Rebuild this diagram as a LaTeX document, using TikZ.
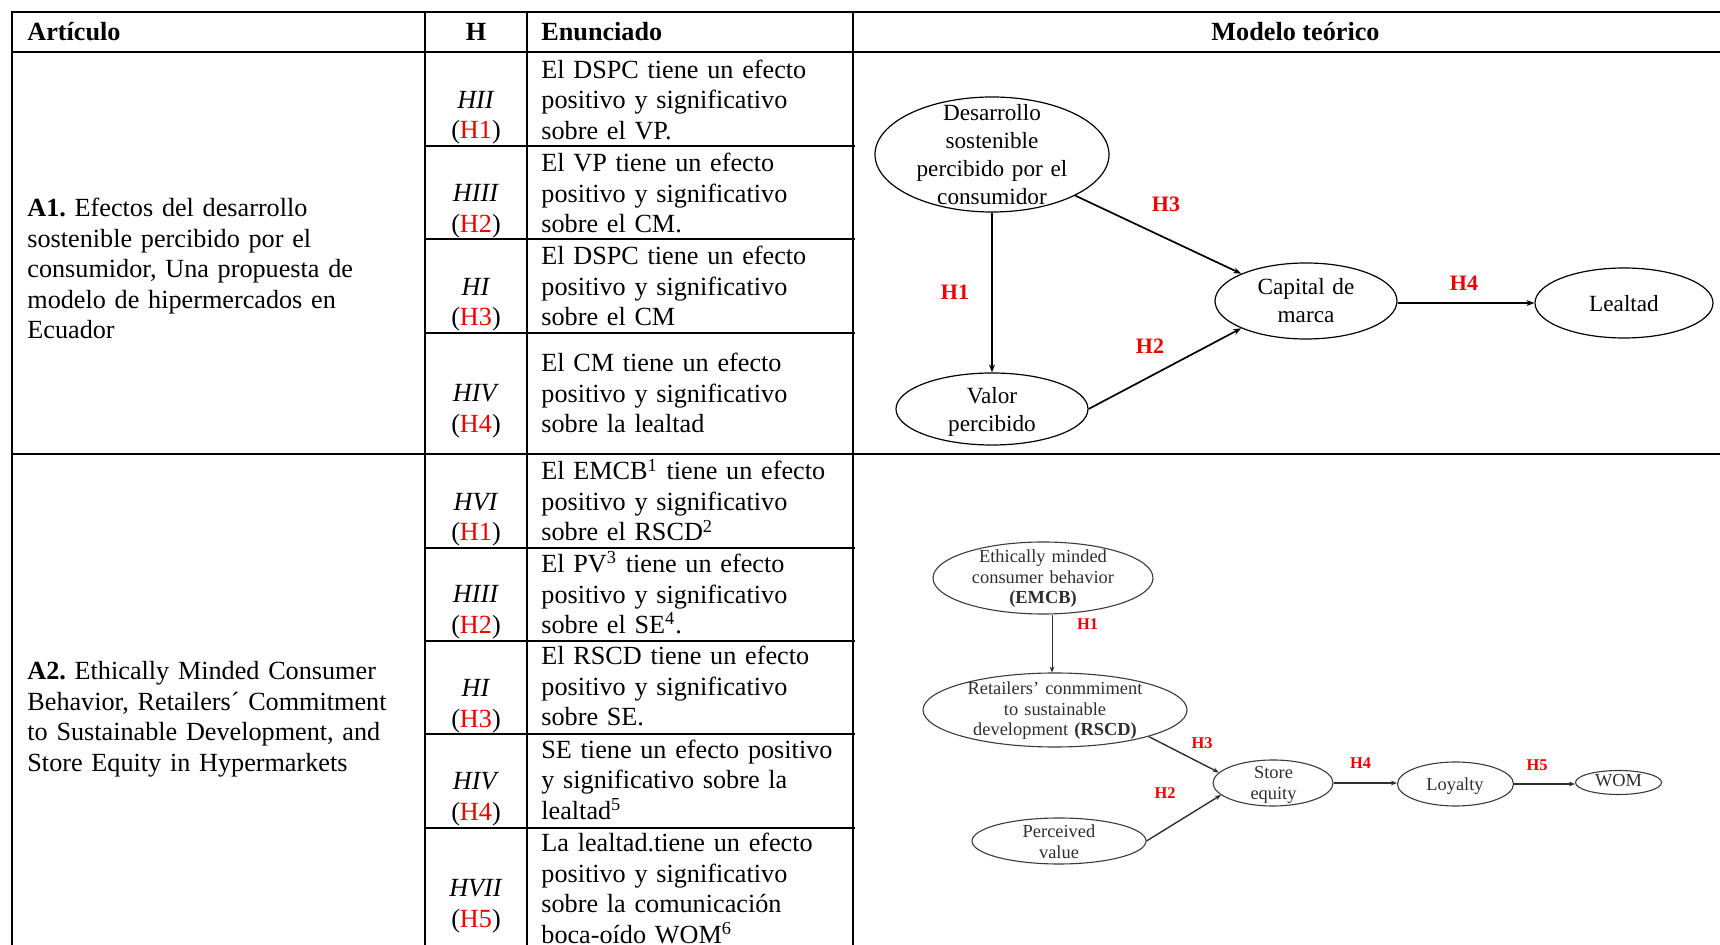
\documentclass[tikz,border=0pt]{standalone}
\usepackage{fontspec}
\setmainfont{Liberation Serif}
\usetikzlibrary{shapes.geometric,arrows.meta}
\definecolor{hred}{HTML}{EE0000}
\definecolor{dgray}{HTML}{2E2E2E}
\definecolor{egray}{HTML}{3A3A3A}
\newcommand\tabf{\fontsize{13.1pt}{15.25pt}\selectfont}
\newcommand\dfa{\fontsize{11.6pt}{13.85pt}\selectfont}
\newcommand\dfb{\fontsize{9.2pt}{10.25pt}\selectfont}
\frenchspacing
\begin{document}
\begin{tikzpicture}[x=0.5pt,y=-0.5pt,
  gridl/.style={line width=1.1pt, line cap=rect},
  tabtxt/.style={font=\tabf, inner sep=0pt, anchor=base west, align=left, text width=#1},
  tabtxt/.default=155pt,
  htxt/.style={font=\tabf, inner sep=0pt, anchor=base, align=center, text width=45pt},
  hdr/.style={font=\tabf\bfseries, inner sep=0pt},
  ellA/.style={ellipse, draw, line width=0.6pt, inner sep=0pt},
  ellB/.style={ellipse, draw=egray, line width=0.55pt, inner sep=0pt},
  dtxtA/.style={font=\dfa, inner sep=0pt, anchor=base, align=center, text width=100pt},
  dtxtB/.style={font=\dfb, text=dgray, inner sep=0pt, anchor=base, align=center, text width=110pt},
  lblA/.style={font=\fontsize{11pt}{13pt}\selectfont\bfseries, text=hred, inner sep=0pt},
  lblB/.style={font=\fontsize{8.2pt}{10pt}\selectfont\bfseries, text=hred, inner sep=0pt},
  arrA/.style={-{Stealth[length=4pt,width=3pt]}, line width=0.85pt},
  arrAt/.style={-{Stealth[length=4pt,width=3pt]}, line width=0.6pt},
  arrB/.style={-{Stealth[length=3pt,width=2.4pt]}, line width=0.7pt, draw=dgray},
  arrBt/.style={-{Stealth[length=3pt,width=2.4pt]}, line width=0.5pt, draw=dgray}
]
\useasboundingbox (0,0) rectangle (1720,945);

% ---------- table grid ----------
\draw[gridl] (12,12) -- (1720,12);
\draw[gridl] (12,52) -- (1720,52);
\draw[gridl] (12,12) -- (12,945);
\draw[gridl] (425,12) -- (425,945);
\draw[gridl] (527,12) -- (527,945);
\draw[gridl] (853,12) -- (853,945);
\foreach \yy in {146,239,333,548,641,734,828} \draw[gridl] (425,\yy) -- (854,\yy);
\draw[gridl] (12,454) -- (867,454);
\draw[line width=0.6pt] (867,454) -- (1720,454);

% ---------- header ----------
\node[hdr, anchor=base west] (hA) at (27,40.7) {Artículo};
\node[hdr, anchor=base] (hH) at (476,40.7) {H};
\node[hdr, anchor=base west] (hE) at (541,40.7) {Enunciado};
\node[hdr, anchor=base] (hM) at (1295.5,40.7) {Modelo teórico};

% ---------- A1 ----------
\node[tabtxt=195pt] (a1) at (27,217) {\textbf{A1.} Efectos del desarrollo\\sostenible percibido por el\\consumidor, Una propuesta de\\modelo de hipermercados en\\Ecuador};

\node[htxt] (h11) at (476,108.5) {\textit{HII}\\(\textcolor{hred}{H1})};
\node[htxt] (h12) at (476,202) {\textit{HIII}\\(\textcolor{hred}{H2})};
\node[htxt] (h13) at (476,295.5) {\textit{HI}\\(\textcolor{hred}{H3})};
\node[htxt] (h14) at (476,402) {\textit{HIV}\\(\textcolor{hred}{H4})};

\node[tabtxt] (e11) at (541,78.3) {El DSPC tiene un efecto\\positivo y significativo\\sobre el VP.};
\node[tabtxt] (e12) at (541,171.7) {El VP tiene un efecto\\positivo y significativo\\sobre el CM.};
\node[tabtxt] (e13) at (541,265) {El DSPC tiene un efecto\\positivo y significativo\\sobre el CM};
\node[tabtxt] (e14) at (541,371.7) {El CM tiene un efecto\\positivo y significativo\\sobre la lealtad};

% ---------- A2 ----------
\node[tabtxt=195pt] (a2) at (27,680) {\textbf{A2.} Ethically Minded Consumer\\Behavior, Retailers´ Commitment\\to Sustainable Development, and\\Store Equity in Hypermarkets};

\node[htxt] (h21) at (476,510.5) {\textit{HVI}\\(\textcolor{hred}{H1})};
\node[htxt] (h22) at (476,603) {\textit{HIII}\\(\textcolor{hred}{H2})};
\node[htxt] (h23) at (476,696.7) {\textit{HI}\\(\textcolor{hred}{H3})};
\node[htxt] (h24) at (476,790) {\textit{HIV}\\(\textcolor{hred}{H4})};
\node[htxt] (h25) at (476,896.7) {\textit{HVII}\\(\textcolor{hred}{H5})};

\node[tabtxt] (e21) at (541,480) {El EMCB\textsuperscript{1} tiene un efecto\\positivo y significativo\\sobre el RSCD\textsuperscript{2}};
\node[tabtxt] (e22) at (541,572.7) {El PV\textsuperscript{3} tiene un efecto\\positivo y significativo\\sobre el SE\textsuperscript{4}.};
\node[tabtxt] (e23) at (541,665) {El RSCD tiene un efecto\\positivo y significativo\\sobre SE.};
\node[tabtxt] (e24) at (541,758.3) {SE tiene un efecto positivo\\y significativo sobre la\\lealtad\textsuperscript{5}};
\node[tabtxt] (e25) at (541,851.7) {La lealtad.tiene un efecto\\positivo y significativo\\sobre la comunicación\\boca-oído WOM\textsuperscript{6}};

% ---------- Model A1 ----------
\node[ellA, minimum width=117pt, minimum height=57.5pt] (dspc) at (992,154.5) {};
\node[ellA, minimum width=96pt, minimum height=36pt] (vp) at (992,409) {};
\node[ellA, minimum width=91pt, minimum height=38pt] (cm) at (1306,301) {};
\node[ellA, minimum width=89pt, minimum height=35pt] (leal) at (1624,303) {};

\node[dtxtA] (dspcT) at (992,121) {Desarrollo\\sostenible\\percibido por el\\consumidor};
\node[dtxtA] (vpT) at (992,404) {Valor\\percibido};
\node[dtxtA] (cmT) at (1306,295) {Capital de\\marca};
\node[dtxtA] (lealT) at (1624,312) {Lealtad};

\draw[arrAt] (dspc.south) -- (vp.north);
\draw[arrA] (dspc.south east) -- (cm.north west);
\draw[arrA] (vp.east) -- (cm.south west);
\draw[arrA] ([yshift=-1pt]cm.east) -- ([yshift=-1pt]cm.east -| leal.west);

\node[lblA] (l1) at (955,292) {H1};
\node[lblA] (l3) at (1166,204) {H3};
\node[lblA] (l2) at (1150,346) {H2};
\node[lblA] (l4) at (1464,283) {H4};

% ---------- Model A2 ----------
\node[ellB, minimum width=110pt, minimum height=36pt] (emcb) at (1043,578) {};
\node[ellB, minimum width=132pt, minimum height=37pt] (rscd) at (1055,710) {};
\node[ellB, minimum width=87pt, minimum height=23pt] (pv) at (1059,841) {};
\node[ellB, minimum width=60pt, minimum height=23pt] (se) at (1273,783) {};
\node[ellB, minimum width=58pt, minimum height=22pt] (loy) at (1455.5,784) {};
\node[ellB, minimum width=43pt, minimum height=12pt] (wom) at (1618.5,782.5) {};

\node[dtxtB] (emcbT) at (1043,563) {Ethically minded\\consumer behavior\\\textbf{(EMCB)}};
\node[dtxtB] (rscdT) at (1055,695) {Retailers’ conmmiment\\to sustainable\\development \textbf{(RSCD)}};
\node[dtxtB] (pvT) at (1059,837.7) {Perceived\\value};
\node[dtxtB] (seT) at (1273.5,779) {Store\\equity};
\node[dtxtB] (loyT) at (1455,790.7) {Loyalty};
\node[dtxtB] (womT) at (1618.5,787) {WOM};

\draw[arrBt] ([xshift=4.5pt]emcb.south) -- ([xshift=-1.5pt]rscd.north);
\draw[arrB] (rscd.south east) -- (se.169);
\draw[arrB] (pv.east) -- (se.193);
\draw[arrB] (se.east) -- (se.east -| loy.west);
\draw[arrB] (loy.east) -- (loy.east -| wom.west);

\node[lblB] (m1) at (1087.5,624) {H1};
\node[lblB] (m3) at (1202,743) {H3};
\node[lblB] (m2) at (1165,793) {H2};
\node[lblB] (m4) at (1360.5,763) {H4};
\node[lblB] (m5) at (1537,765) {H5};
\end{tikzpicture}
\end{document}
